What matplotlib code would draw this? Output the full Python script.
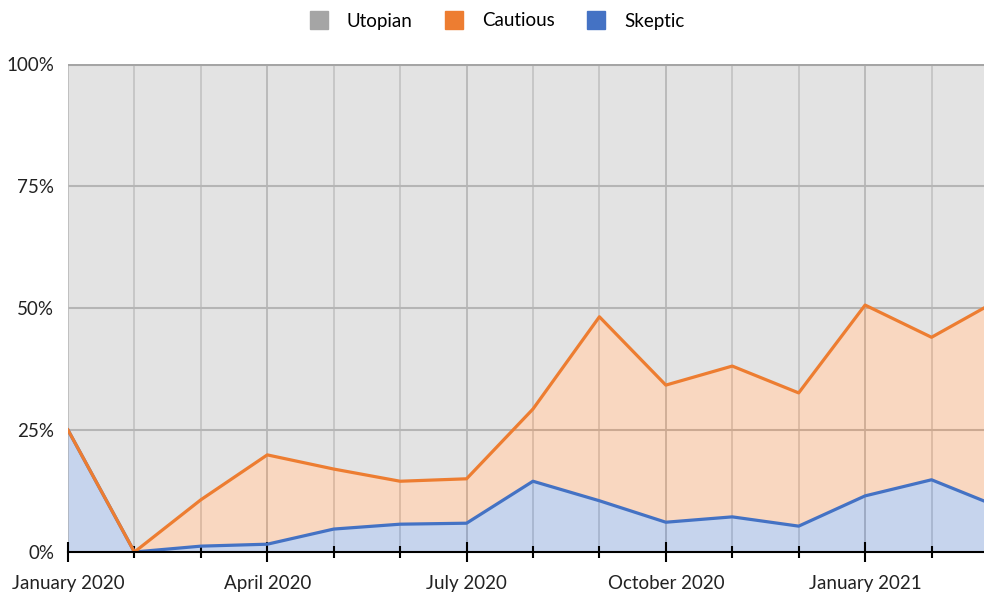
import matplotlib.pyplot as plt
import matplotlib.ticker as mticker
from matplotlib.lines import Line2D
import numpy as np

plt.rcParams['font.family'] = ['Lato', 'DejaVu Sans']

months = ['Jan 2020', 'Feb 2020', 'Mar 2020', 'Apr 2020', 'May 2020', 'Jun 2020',
          'Jul 2020', 'Aug 2020', 'Sep 2020', 'Oct 2020', 'Nov 2020', 'Dec 2020',
          'Jan 2021', 'Feb 2021', 'Mar 2021']
skeptic = [25, 0, 1.2, 1.6, 4.7, 5.7, 5.9, 14.5, 10.5, 6.1, 7.2, 5.3, 11.5, 14.8, 9.3]
cautious = [0, 0, 9.5, 18.3, 12.3, 8.8, 9.1, 14.8, 37.7, 28.1, 30.9, 27.3, 39.1, 29.2, 42.3]
utopian = [100 - s - c for s, c in zip(skeptic, cautious)]

quarter_labels = ['January 2020', 'April 2020', 'July 2020', 'October 2020', 'January 2021']

gray = '#a5a5a5'
orange = '#ed7d31'
blue = '#4472c4'

x = np.arange(len(months))
sk = np.array(skeptic)
ca = sk + np.array(cautious)
ut = ca + np.array(utopian)

fig = plt.figure(figsize=(9.84, 5.96), dpi=100)
ax = fig.add_axes([68/984, 1 - 552/596, 1 - 68/984, (552 - 64)/596])

# grid under the fills
for i in x:
    c = '#b4b4b4' if i % 3 == 0 else '#cccccc'
    ax.axvline(i, color=c, lw=1.1, zorder=0)
for yv in [25, 50, 75]:
    ax.axhline(yv, color='#bdbdbd', lw=1.5, zorder=0)

ax.fill_between(x, 0, sk, color=blue, alpha=0.3, lw=0, zorder=1)
ax.fill_between(x, sk, ca, color=orange, alpha=0.3, lw=0, zorder=1)
ax.fill_between(x, ca, ut, color=gray, alpha=0.3, lw=0, zorder=1)

ax.plot(x, ut, color=gray, lw=2.2, zorder=3)
ax.plot(x, sk, color=blue, lw=2.3, zorder=3)
ax.plot(x, ca, color=orange, lw=2.3, zorder=4)

ax.set_xticks(x[::3][:5])
ax.set_xticklabels(quarter_labels)
ax.set_xticks(x, minor=True)
ax.tick_params(axis='x', which='major', direction='inout', length=15, width=1.5,
               color='black', labelsize=13.5, pad=9, labelcolor='#222222')
ax.tick_params(axis='x', which='minor', direction='inout', length=8, width=1.5, color='black')

ax.set_yticks([0, 25, 50, 75, 100])
ax.yaxis.set_major_formatter(mticker.FuncFormatter(lambda v, p: f'{v:.0f}%'))
ax.tick_params(axis='y', length=0, labelsize=13.5, pad=10, labelcolor='#222222')

# limits last: set_xticks would widen them
ax.set_xlim(0, 13.79)
ax.set_ylim(0, 100)

for side in ['top', 'right', 'left']:
    ax.spines[side].set_visible(False)
ax.spines['bottom'].set_linewidth(1.5)
ax.spines['bottom'].set_color('black')
ax.spines['bottom'].set_zorder(5)

handles = [Line2D([], [], ls='none', marker='s', markersize=13, color=c)
           for c in [gray, orange, blue]]
fig.legend(handles, ['Utopian', 'Cautious', 'Skeptic'], loc='center',
           bbox_to_anchor=(0.5, 1 - 21/596), ncol=3, frameon=False,
           fontsize=13.5, handletextpad=0.5, columnspacing=1.2)

fig.savefig('out.png', dpi=100)
